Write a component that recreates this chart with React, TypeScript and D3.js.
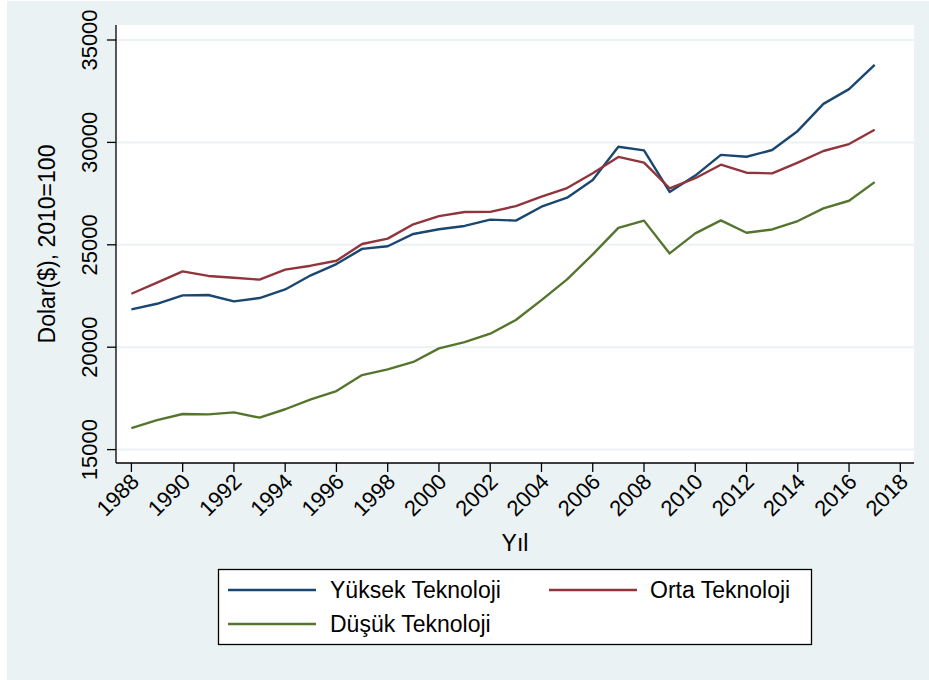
import React from "react";
import * as d3 from "d3";

const years = d3.range(1988, 2018);
const yuksek = [21850, 22120, 22530, 22550, 22240, 22400, 22820, 23510, 24060, 24800, 24930, 25530, 25760, 25920, 26230, 26180, 26860, 27300, 28160, 29790, 29610, 27580, 28380, 29390, 29300, 29630, 30560, 31880, 32600, 33790];
const orta = [22610, 23150, 23700, 23480, 23390, 23300, 23790, 23980, 24220, 25040, 25300, 26000, 26400, 26600, 26610, 26890, 27350, 27770, 28490, 29290, 29010, 27760, 28250, 28910, 28520, 28490, 29010, 29580, 29920, 30620];
const dusuk = [16050, 16440, 16740, 16720, 16820, 16560, 16970, 17450, 17860, 18640, 18920, 19280, 19940, 20250, 20660, 21330, 22300, 23310, 24530, 25830, 26180, 24580, 25560, 26190, 25590, 25750, 26160, 26780, 27150, 28060];
const yTicks = [15000, 20000, 25000, 30000, 35000];
const xTicks = d3.range(1988, 2019, 2);
const seriesNames = ["Yüksek Teknoloji", "Orta Teknoloji", "Düşük Teknoloji"];
const seriesColors = ["#1A476F", "#90353B", "#55752F"];

const W = 929;
const H = 680;
const FONT = "'Liberation Sans', Arial, Helvetica, sans-serif";

export default function App() {
  const x = d3.scaleLinear().domain([1988, 2018]).range([131.4, 900.3]);
  const y = d3.scaleLinear().domain([15000, 35000]).range([449.6, 40]);
  const plotL = 116, plotR = 914, plotT = 25, plotB = 463;
  const allSeries = [yuksek, orta, dusuk];
  const line = d3.line<number>().x((_, i) => x(years[i])).y((d) => y(d));

  const legendItems = [
    { name: seriesNames[0], color: seriesColors[0], lx: 228, tx: 330, cy: 590 },
    { name: seriesNames[1], color: seriesColors[1], lx: 549, tx: 650, cy: 590 },
    { name: seriesNames[2], color: seriesColors[2], lx: 228, tx: 330, cy: 624 },
  ];

  return (
    <svg width={W} height={H} style={{ position: "absolute", left: 0, top: 0, display: "block" }} fontFamily={FONT}>
      <rect x={0} y={0} width={W} height={H} fill="#ffffff" />
      <rect x={7} y={1} width={W - 7} height={H - 1} fill="#EAF2F3" />
      <rect x={plotL} y={plotT} width={plotR - plotL} height={plotB - plotT} fill="#ffffff" />
      {yTicks.map((t) => (
        <line key={"g" + t} x1={plotL} x2={plotR} y1={y(t)} y2={y(t)} stroke="#EAF2F3" strokeWidth={2} />
      ))}
      {allSeries.map((s, i) => (
        <path key={"s" + i} d={line(s) || ""} fill="none" stroke={seriesColors[i]} strokeWidth={2.4} strokeLinejoin="round" />
      ))}
      <line x1={plotL} x2={plotL} y1={plotT} y2={plotB} stroke="#000" strokeWidth={1.3} />
      <line x1={plotL} x2={plotR} y1={plotB} y2={plotB} stroke="#000" strokeWidth={1.3} />
      {yTicks.map((t) => (
        <g key={"yt" + t}>
          <line x1={plotL - 9} x2={plotL} y1={y(t)} y2={y(t)} stroke="#000" strokeWidth={1.3} />
          <text transform={`translate(97,${y(t)}) rotate(-90)`} textAnchor="middle" fontSize={22} fill="#000">
            {t}
          </text>
        </g>
      ))}
      {xTicks.map((t) => (
        <g key={"xt" + t}>
          <line x1={x(t)} x2={x(t)} y1={plotB} y2={plotB + 9} stroke="#000" strokeWidth={1.3} />
          <text transform={`translate(${x(t) + 9},${plotB + 20}) rotate(-45)`} textAnchor="end" fontSize={22} fill="#000">
            {t}
          </text>
        </g>
      ))}
      <text transform={`translate(55,${(plotT + plotB) / 2}) rotate(-90)`} textAnchor="middle" fontSize={23} fill="#000">
        Dolar($), 2010=100
      </text>
      <text x={(plotL + plotR) / 2} y={551} textAnchor="middle" fontSize={23} fill="#000">
        Yıl
      </text>
      <rect x={218.5} y={569.5} width={593} height={75} fill="#ffffff" stroke="#000" strokeWidth={1.3} />
      {legendItems.map((it) => (
        <g key={it.name}>
          <line x1={it.lx} x2={it.lx + 88} y1={it.cy} y2={it.cy} stroke={it.color} strokeWidth={2.6} />
          <text x={it.tx} y={it.cy + 8} fontSize={23} fill="#000">
            {it.name}
          </text>
        </g>
      ))}
    </svg>
  );
}
